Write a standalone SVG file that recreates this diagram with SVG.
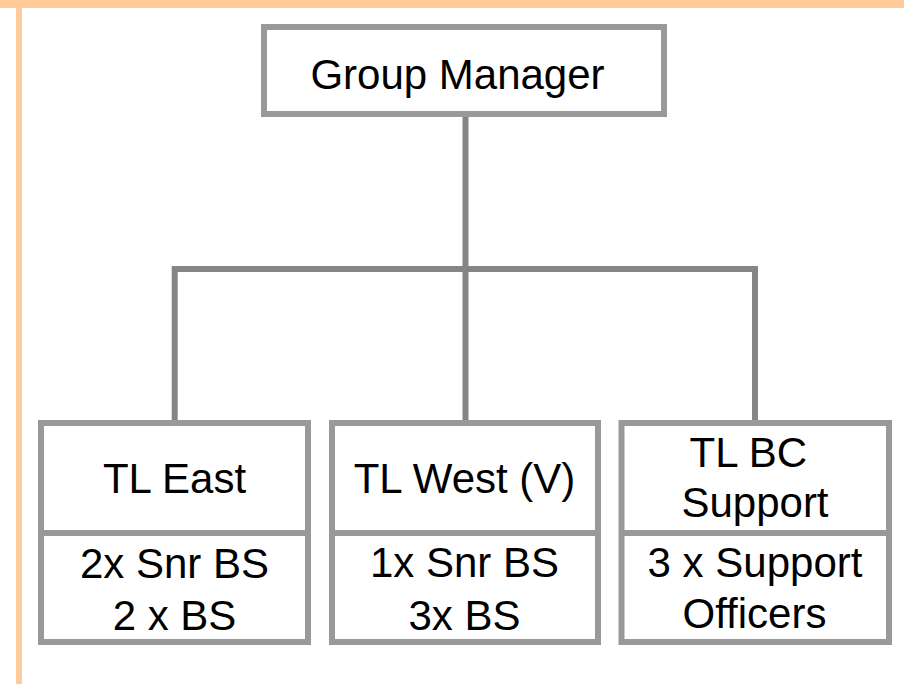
<svg xmlns="http://www.w3.org/2000/svg" width="904" height="685" viewBox="0 0 904 685">
<style>
.box{fill:#ffffff;stroke:#999999;stroke-width:6}
.div{stroke:#999999;stroke-width:6}
.conn{fill:none;stroke:#858585;stroke-width:6}
text{font-family:"Liberation Sans",Arial,sans-serif;font-size:42px;fill:#000000;text-anchor:middle}
</style>
<rect x="0" y="0" width="904" height="685" fill="#ffffff"/>
<rect x="0" y="0" width="904" height="8" fill="#ffcc99"/>
<rect x="16" y="0" width="6" height="684" fill="#ffcc99"/>
<g id="connectors">
<path class="conn" d="M465.5 114 V420"/>
<path class="conn" d="M174.7 420 V269 H755 V420"/>
</g>
<g id="group-manager">
<rect class="box" x="264" y="27" width="400" height="87"/>
<text x="457.5" y="88.5">Group Manager</text>
</g>
<g id="tl-east">
<rect class="box" x="41" y="423" width="267" height="219"/>
<line class="div" x1="41" y1="533" x2="308" y2="533"/>
<text x="174.5" y="493">TL East</text>
<text x="174.5" y="578">2x Snr BS</text>
<text x="174.5" y="630">2 x BS</text>
</g>
<g id="tl-west">
<rect class="box" x="332" y="423" width="266" height="219"/>
<line class="div" x1="332" y1="533" x2="598" y2="533"/>
<text x="464.5" y="493">TL West (V)</text>
<text x="464.5" y="577">1x Snr BS</text>
<text x="464.5" y="629.5">3x BS</text>
</g>
<g id="tl-bc-support">
<rect class="box" x="621.5" y="423" width="267.5" height="219"/>
<line class="div" x1="621.5" y1="533" x2="889" y2="533"/>
<text x="748.3" y="467">TL BC</text>
<text x="755" y="517">Support</text>
<text x="755" y="577">3 x Support</text>
<text x="754.5" y="627.5">Officers</text>
</g>
</svg>
